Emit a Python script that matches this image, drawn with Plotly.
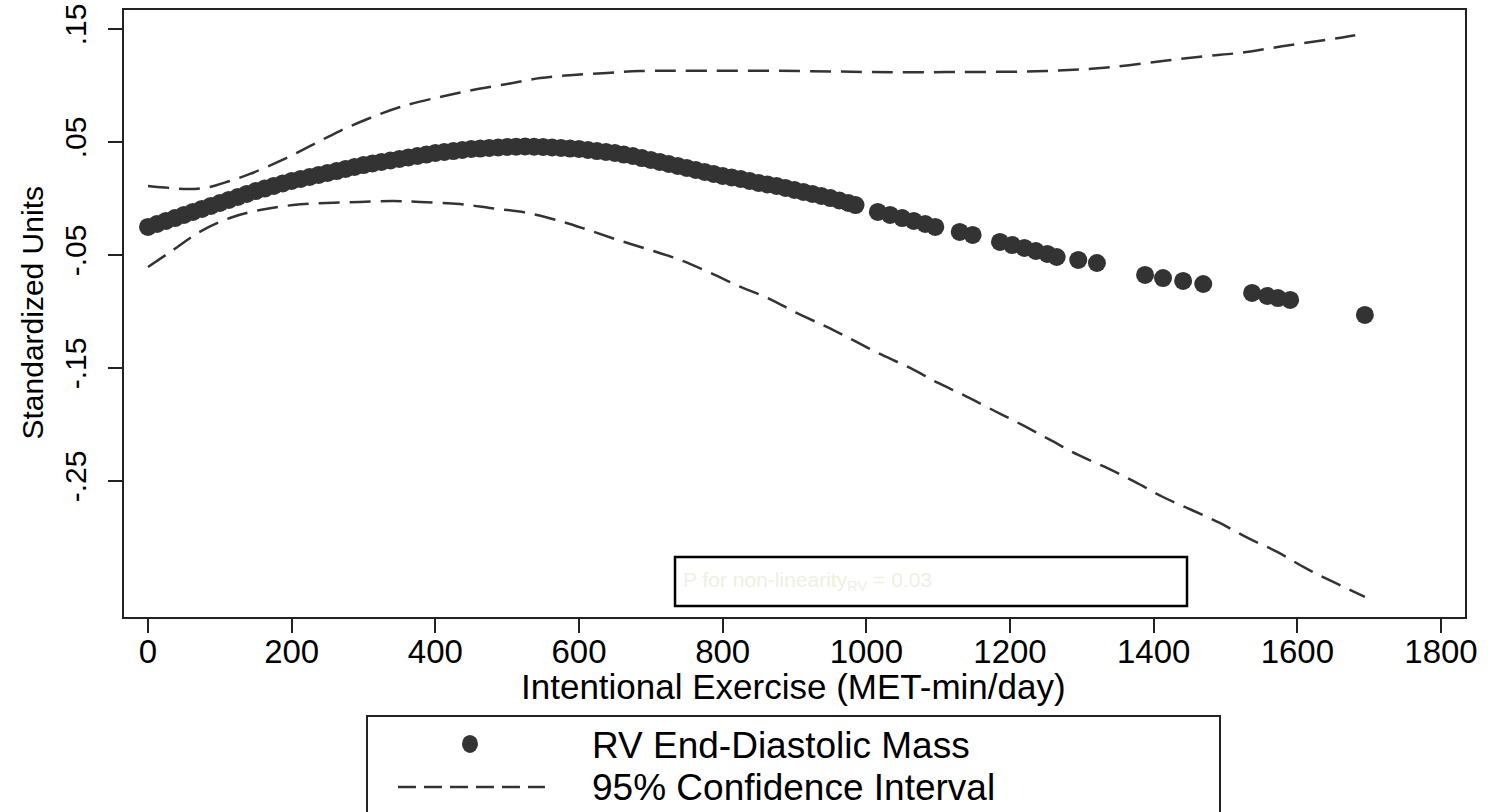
import plotly.graph_objects as go

# ---------------- data ----------------
# fitted values (RV End-Diastolic Mass)
fit_x = [0, 12.5, 25, 37.5, 50, 62.5, 75, 87.5, 100, 112.5, 125, 137.5, 150, 162.5,
         175, 187.5, 200, 212.5, 225, 237.5, 250, 262.5, 275, 287.5, 300, 312.5,
         325, 337.5, 350, 362.5, 375, 387.5, 400, 412.5, 425, 437.5, 450, 462.5,
         475, 487.5, 500, 512.5, 525, 537.5, 550, 562.5, 575, 587.5, 600, 612.5,
         625, 637.5, 650, 662.5, 675, 687.5, 700, 712.5, 725, 737.5, 750, 762.5,
         775, 787.5, 800, 812.5, 825, 837.5, 850, 862.5, 875, 887.5, 900, 912.5,
         925, 937.5, 950, 962.5, 975, 985,
         1016, 1033, 1050, 1066, 1082, 1096, 1130, 1148, 1186, 1203, 1220, 1236,
         1252, 1265, 1295, 1321, 1388, 1413, 1441, 1469, 1537, 1558, 1573, 1590, 1694]
fit_y = [-0.0252, -0.0226, -0.0199, -0.0173, -0.0146, -0.0119, -0.0093, -0.0066,
         -0.0040, -0.0013, 0.0013, 0.0040, 0.0066, 0.0088, 0.0111, 0.0133, 0.0155,
         0.0173, 0.0190, 0.0208, 0.0226, 0.0243, 0.0261, 0.0279, 0.0296, 0.0310,
         0.0323, 0.0336, 0.0350, 0.0363, 0.0376, 0.0389, 0.0403, 0.0412, 0.0420,
         0.0429, 0.0438, 0.0442, 0.0447, 0.0451, 0.0456, 0.0458, 0.0460, 0.0458,
         0.0456, 0.0451, 0.0447, 0.0442, 0.0438, 0.0429, 0.0420, 0.0412, 0.0403,
         0.0389, 0.0376, 0.0358, 0.0341, 0.0323, 0.0305, 0.0288, 0.0270, 0.0252,
         0.0235, 0.0217, 0.0199, 0.0186, 0.0173, 0.0155, 0.0137, 0.0124, 0.0111,
         0.0093, 0.0075, 0.0058, 0.0040, 0.0022, 0.0004, -0.0018, -0.0040, -0.0058,
         -0.0119, -0.0146, -0.0173, -0.0199, -0.0226, -0.0252, -0.0296, -0.0323,
         -0.0385, -0.0412, -0.0438, -0.0465, -0.0491, -0.0518, -0.0544, -0.0571,
         -0.0677, -0.0704, -0.0730, -0.0757, -0.0836, -0.0863, -0.0881, -0.0898, -0.1031]

# upper 95% confidence limit
upper_x = [0, 31, 58, 86, 114, 142, 184, 226, 267, 309, 351, 406, 452, 500, 546,
           592, 639, 685, 778, 908, 1009, 1126, 1250, 1335, 1424, 1474, 1519, 1564,
           1609, 1658, 1694]
upper_y = [0.0111, 0.0093, 0.0084, 0.0102, 0.0155, 0.0217, 0.0332, 0.0465, 0.0597,
           0.0712, 0.0810, 0.0898, 0.0960, 0.1013, 0.1066, 0.1093, 0.1111, 0.1128,
           0.1131, 0.1128, 0.1119, 0.1119, 0.1128, 0.1159, 0.1226, 0.1261, 0.1288,
           0.1332, 0.1376, 0.1420, 0.1459]

# lower 95% confidence limit
lower_x = [0, 35, 72, 114, 156, 202, 249, 295, 341, 379, 434, 476, 528, 578, 613,
           654, 699, 741, 783, 825, 863, 903, 945, 981, 1022, 1061, 1100, 1135,
           1176, 1217, 1256, 1295, 1335, 1374, 1413, 1453, 1492, 1531, 1572, 1611,
           1650, 1694]
lower_y = [-0.0606, -0.0456, -0.0296, -0.0173, -0.0102, -0.0058, -0.0040, -0.0031,
           -0.0022, -0.0031, -0.0049, -0.0084, -0.0128, -0.0208, -0.0279, -0.0367,
           -0.0456, -0.0544, -0.0659, -0.0783, -0.0881, -0.1013, -0.1137, -0.1252,
           -0.1385, -0.1500, -0.1633, -0.1739, -0.1872, -0.2004, -0.2137, -0.2270,
           -0.2385, -0.2509, -0.2642, -0.2757, -0.2872, -0.3004, -0.3128, -0.3270,
           -0.3394, -0.3526]

x_tickvals = [0, 200, 400, 600, 800, 1000, 1200, 1400, 1600, 1800]
y_tickvals = [0.15, 0.05, -0.05, -0.15, -0.25]
y_ticktext = [".15", ".05", "-.05", "-.15", "-.25"]

x_title = "Intentional Exercise (MET-min/day)"
y_title = "Standardized Units"
legend_labels = ["RV End-Diastolic Mass", "95% Confidence Interval"]
note_text = "P for non-linearity<sub>RV</sub> = 0.03"

# ---------------- figure ----------------
FONT = "Liberation Sans, Arial, sans-serif"
INK = "#333333"

fig = go.Figure()
dash_style = "21px,10px"
fig.add_trace(go.Scatter(x=upper_x, y=upper_y, mode="lines",
                         line=dict(color=INK, width=2.5, dash=dash_style, shape="spline"),
                         showlegend=False, hoverinfo="skip"))
fig.add_trace(go.Scatter(x=lower_x, y=lower_y, mode="lines",
                         line=dict(color=INK, width=2.5, dash=dash_style, shape="spline"),
                         showlegend=False, hoverinfo="skip"))
fig.add_trace(go.Scatter(x=fit_x, y=fit_y, mode="markers",
                         marker=dict(color=INK, size=18, line=dict(width=0)),
                         showlegend=False))

fig.update_layout(
    width=1499, height=812,
    margin=dict(l=124, r=34, t=10, b=195, autoexpand=False),
    paper_bgcolor="white", plot_bgcolor="white",
    font=dict(family=FONT, color="black"),
    showlegend=False,
)
fig.update_xaxes(range=[-33.4, 1833.4], tickvals=x_tickvals, automargin=False,
                 showgrid=False, zeroline=False,
                 showline=True, mirror=True, linecolor="#222", linewidth=2,
                 ticks="outside", ticklen=14, tickwidth=2, tickcolor="#222",
                 ticklabelstandoff=-10,
                 tickfont=dict(size=33, family=FONT, color="black"))
fig.update_yaxes(range=[-0.3704, 0.1668], tickvals=y_tickvals, ticktext=y_ticktext,
                 automargin=False,
                 showgrid=False, zeroline=False,
                 showline=True, mirror=True, linecolor="#222", linewidth=2,
                 ticks="outside", ticklen=14, tickwidth=2, tickcolor="#222",
                 tickangle=-90, ticklabelstandoff=10,
                 tickfont=dict(size=30, family=FONT, color="black"))

# axis titles
fig.add_annotation(text=x_title, xref="paper", yref="paper", x=0.499, y=-0.115,
                   xanchor="center", yanchor="middle", showarrow=False,
                   font=dict(size=35, family=FONT, color="black"))
fig.add_annotation(text=y_title, xref="paper", yref="paper", x=-0.0686, y=0.5,
                   xanchor="center", yanchor="middle", showarrow=False, textangle=-90,
                   font=dict(size=30, family=FONT, color="black"))

# note box
fig.add_shape(type="rect", xref="paper", yref="paper",
              x0=0.4109, x1=0.7927, y0=0.0181, y1=0.0988,
              line=dict(color="black", width=2.5), fillcolor="rgba(0,0,0,0)")
fig.add_annotation(text=note_text, xref="paper", yref="paper", x=0.4155, y=0.0600,
                   xanchor="left", yanchor="middle", showarrow=False,
                   font=dict(size=21, family=FONT, color="#f1eee2"))

# custom legend
fig.add_shape(type="rect", xref="paper", yref="paper",
              x0=0.1812, x1=0.8173, y0=-0.36, y1=-0.1631,
              line=dict(color="#222", width=2), fillcolor="rgba(0,0,0,0)")
fig.add_shape(type="circle", xref="paper", yref="paper",
              xsizemode="pixel", ysizemode="pixel",
              xanchor=0.258, yanchor=-0.2092, x0=-8, x1=8, y0=-9, y1=9,
              fillcolor=INK, line=dict(width=0))
fig.add_shape(type="line", xref="paper", yref="paper",
              x0=0.2043, x1=0.3139, y0=-0.2801, y1=-0.2801,
              line=dict(color=INK, width=2.5, dash="18px,8px"))
fig.add_annotation(text=legend_labels[0], xref="paper", yref="paper", x=0.3475, y=-0.2109,
                   xanchor="left", yanchor="middle", showarrow=False,
                   font=dict(size=37, family=FONT, color="black"))
fig.add_annotation(text=legend_labels[1], xref="paper", yref="paper", x=0.3475, y=-0.2817,
                   xanchor="left", yanchor="middle", showarrow=False,
                   font=dict(size=37, family=FONT, color="black"))

fig.write_html("out.html", config={"displayModeBar": False},
               post_script="document.body.style.margin='0';document.body.style.overflow='hidden';")
